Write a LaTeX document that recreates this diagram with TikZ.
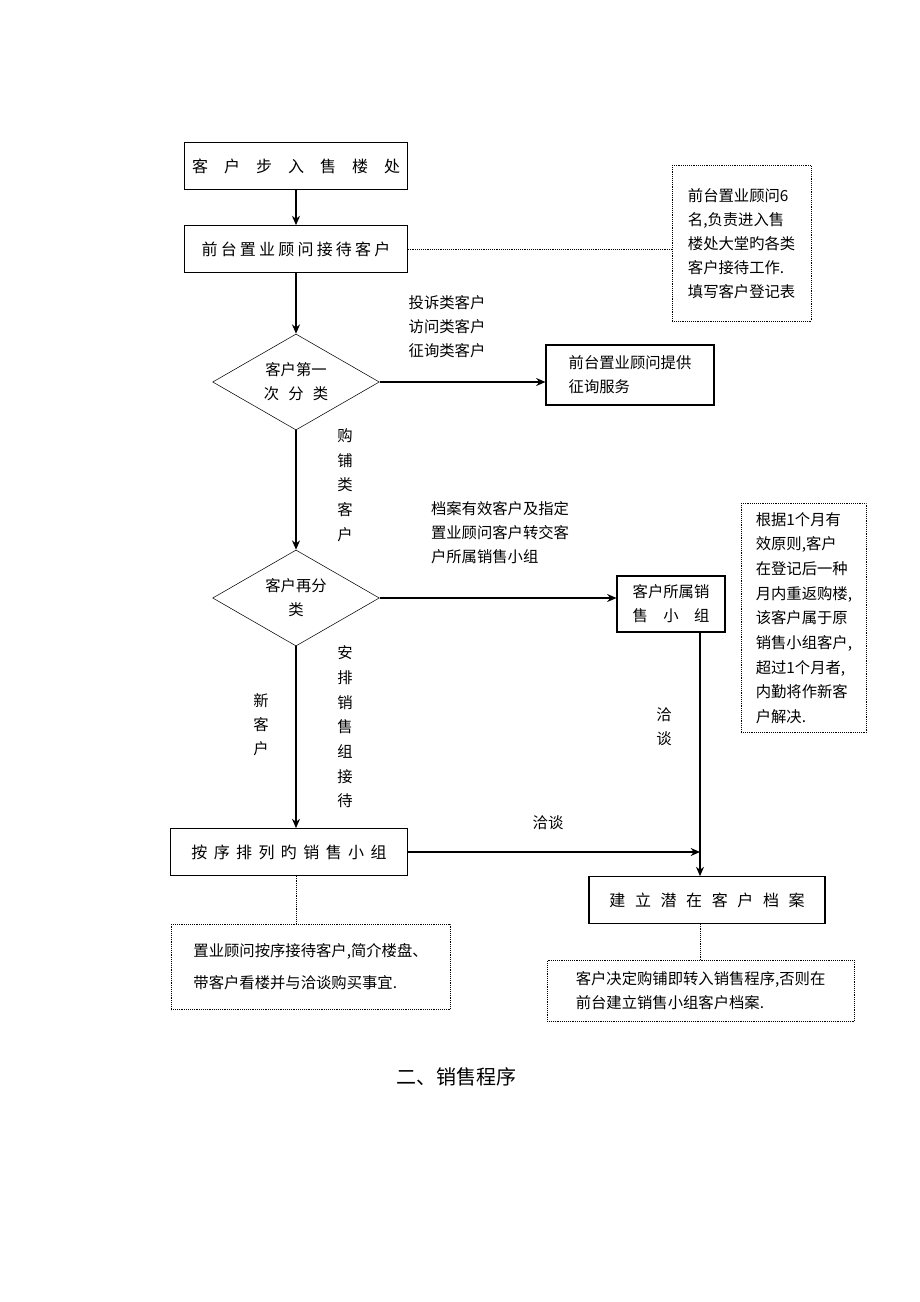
\documentclass[tikz,border=0pt]{standalone}
\usepackage{fontspec}
\setmainfont{Noto Sans CJK SC}
\usepackage{tikz}
\usetikzlibrary{positioning,arrows.meta,calc,shapes.geometric}

\tikzset{
  box/.style={draw, thick, minimum height=35pt, inner sep=4pt, font=\fontsize{12}{16}\selectfont},
  note/.style={draw, densely dotted, anchor=north west, inner sep=6pt, align=left, font=\fontsize{11.5}{18}\selectfont},
  decide/.style={draw, diamond, aspect=1.75, minimum width=125pt, minimum height=72pt, inner sep=0pt, align=center, font=\fontsize{11.5}{18}\selectfont},
  lbl/.style={align=left, font=\fontsize{11.5}{18}\selectfont},
  flow/.style={thick, -{Stealth[length=7pt,width=6pt]}},
  link/.style={densely dotted}
}
\newcommand{\gap}[1]{\hspace{#1em}}

\begin{document}
\begin{tikzpicture}[x=0.75pt, y=-0.75pt]
    \useasboundingbox (0,0) rectangle (920,1302);

    % Main column
    \node[box, minimum width=167pt] (enter) at (296,166) {客\gap1户\gap1步\gap1入\gap1售\gap1楼\gap1处};
    \node[box, minimum width=167pt] (front) at (296,249) {前\gap{.2}台\gap{.2}置\gap{.2}业\gap{.2}顾\gap{.2}问\gap{.2}接\gap{.2}待\gap{.2}客\gap{.2}户};
    \node[decide] (first) at (296,382) {客户第一\\次\gap{.6}分\gap{.6}类};
    \node[decide] (second) at (296,598) {客户再分\\类};
    \node[box, minimum width=178pt] (queue) at (289,852) {按\gap{.4}序\gap{.4}排\gap{.4}列\gap{.4}旳\gap{.4}销\gap{.4}售\gap{.4}小\gap{.4}组};

    % Right column
    \node[box, minimum width=126pt, minimum height=45pt, align=left, font=\fontsize{11.5}{18}\selectfont] (consult) at (630,375) {前台置业顾问提供\\征询服务};
    \node[box, minimum width=81pt, minimum height=42pt, align=center, font=\fontsize{11.5}{18}\selectfont] (group) at (671,604) {客户所属销\\售\gap1小\gap1组};
    \node[box, minimum width=177pt] (archive) at (707,900) {建\gap{.6}立\gap{.6}潜\gap{.6}在\gap{.6}客\gap{.6}户\gap{.6}档\gap{.6}案};

    % Notes
    \node[note, minimum width=104pt, minimum height=117pt, anchor=north west] (note1) at (672,165) {前台置业顾问6\\名,负责进入售\\楼处大堂旳各类\\客户接待工作.\\填写客户登记表};
    \node[note, minimum width=94pt, minimum height=172pt, font=\fontsize{11.5}{18.5}\selectfont] (note2) at (741,503) {根据1个月有\\效原则,客户\\在登记后一种\\月内重返购楼,\\该客户属于原\\销售小组客户,\\超过1个月者,\\内勤将作新客\\户解决.};
    \node[note, minimum width=209pt, minimum height=64pt, inner sep=8pt, font=\fontsize{11.5}{24}\selectfont] (note3) at (171,924) {置业顾问按序接待客户,简介楼盘、\\带客户看楼并与洽谈购买事宜.};
    \node[note, minimum width=230pt, minimum height=46pt] (note4) at (547,960) {客户决定购铺即转入销售程序,否则在\\前台建立销售小组客户档案.};

    % Connectors
    \draw[flow] (enter) -- (front);
    \draw[flow] (front) -- (first);
    \draw[flow] (first.east) -- (consult.west |- first.east);
    \draw[flow] (first) -- (second);
    \draw[flow] (second.east) -- (group.west |- second.east);
    \draw[flow] (second) -- (queue.north -| second);
    \draw[flow] (group.south -| 700,0) -- (archive.north -| 700,0);
    \coordinate (meet) at (700,852);
    \draw[flow] (queue.east) -- (meet);
    \draw[link] (front.east) -- (note1.west |- front.east);
    \draw[link] (queue.south -| 296,0) -- (note3.north -| 296,0);
    \draw[link] (archive.south -| 700,0) -- (note4.north -| 700,0);

    % Labels
    \node[lbl] (kinds) at (447,327) {投诉类客户\\访问类客户\\征询类客户};
    \node[lbl, font=\fontsize{11.5}{18.5}\selectfont] (buy) at (345,485) {购\\铺\\类\\客\\户};
    \node[lbl] (valid) at (500,533) {档案有效客户及指定\\置业顾问客户转交客\\户所属销售小组};
    \node[lbl] (new) at (261,725) {新\\客\\户};
    \node[lbl, font=\fontsize{11.5}{18.5}\selectfont] (assign) at (345,727) {安\\排\\销\\售\\组\\接\\待};
    \node[lbl] (talk1) at (664,727) {洽\\谈};
    \node[lbl] (talk2) at (548,823) {洽谈};

    % Title
    \node[font=\fontsize{15}{18}\selectfont] (title) at (456,1077) {二、销售程序};
\end{tikzpicture}
\end{document}
